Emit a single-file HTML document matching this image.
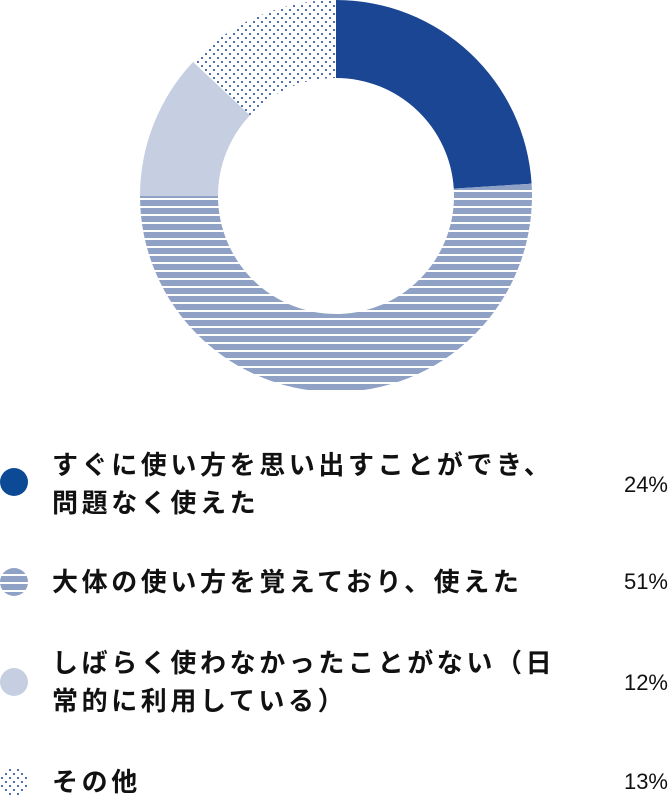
<!DOCTYPE html>
<html><head><meta charset="utf-8"><style>
body{margin:0;width:670px;height:796px;background:#fff;overflow:hidden;font-family:"Liberation Sans","Noto Sans CJK JP",sans-serif;}
.lab{position:absolute;left:52px;font-size:26px;font-weight:bold;color:#111;line-height:38px;letter-spacing:3.6px;white-space:nowrap}
.pct{position:absolute;right:2px;font-size:22px;color:#111;line-height:26px}
</style></head><body>
<svg width="670" height="796" style="position:absolute;left:0;top:0">
<defs>
<pattern id="stripe" width="8" height="8" patternUnits="userSpaceOnUse"><rect width="8" height="8" fill="#8fa2c6"/><rect y="6" width="8" height="2" fill="#fff"/></pattern>
<pattern id="dots" width="8" height="8" patternUnits="userSpaceOnUse"><rect width="8" height="8" fill="#fff"/><circle cx="2" cy="2" r="1" fill="#1a4693"/><circle cx="6" cy="6" r="1" fill="#1a4693"/></pattern>
</defs>
<g id="slices"></g>
<circle cx="14" cy="482" r="14" fill="#0c4a96"/>
<circle cx="14" cy="582" r="14" fill="url(#stripe)"/>
<circle cx="14" cy="682" r="14" fill="#c5cfe1"/>
<circle cx="14" cy="782" r="14" fill="url(#dots)"/>
</svg>
<div class="lab" style="top:446px">すぐに使い方を思い出すことができ、<br>問題なく使えた</div>
<div class="pct" style="top:472px">24%</div>
<div class="lab" style="top:563px">大体の使い方を覚えており、使えた</div>
<div class="pct" style="top:569px">51%</div>
<div class="lab" style="top:644px">しばらく使わなかったことがない（日<br>常的に利用している）</div>
<div class="pct" style="top:670px">12%</div>
<div class="lab" style="top:763px">その他</div>
<div class="pct" style="top:769px">13%</div>
<script>
const categories=["すぐに使い方を思い出すことができ、問題なく使えた","大体の使い方を覚えており、使えた","しばらく使わなかったことがない","その他"];
const values=[24,51,12,13];
const fills=["#1a4693","url(#stripe)","#c5cfe1","url(#dots)"];
const cx=336,cy=196,R=196,r=118;
const g=document.getElementById('slices');
const total=values.reduce((a,b)=>a+b,0);
let a0=0;
function pt(rad,a){return [cx+rad*Math.sin(a),cy-rad*Math.cos(a)];}
values.forEach((v,i)=>{
  const a1=a0+v/total*2*Math.PI;
  const lg=(a1-a0)>Math.PI?1:0;
  const [x1,y1]=pt(R,a0),[x2,y2]=pt(R,a1),[x3,y3]=pt(r,a1),[x4,y4]=pt(r,a0);
  const p=document.createElementNS('http://www.w3.org/2000/svg','path');
  p.setAttribute('d',`M${x1},${y1}A${R},${R} 0 ${lg} 1 ${x2},${y2}L${x3},${y3}A${r},${r} 0 ${lg} 0 ${x4},${y4}Z`);
  p.setAttribute('fill',fills[i]);
  
  
  g.appendChild(p);
  a0=a1;
});
</script>
</body></html>
